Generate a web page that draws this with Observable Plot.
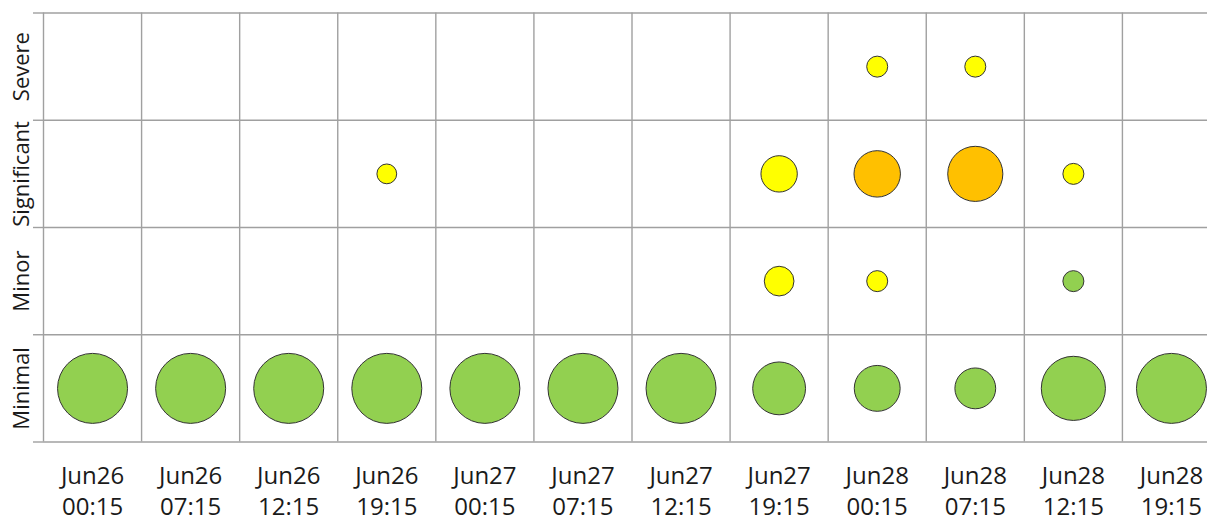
<!DOCTYPE html>
<html><head><meta charset="utf-8">
<script src="https://cdn.jsdelivr.net/npm/d3@7"></script>
<script src="https://cdn.jsdelivr.net/npm/@observablehq/plot@0.6"></script>
<style>html,body{margin:0;padding:0;overflow:hidden;background:#fff}</style>
</head><body><div id="chart"></div>
<script>
const times = ["Jun26\n00:15","Jun26\n07:15","Jun26\n12:15","Jun26\n19:15","Jun27\n00:15","Jun27\n07:15","Jun27\n12:15","Jun27\n19:15","Jun28\n00:15","Jun28\n07:15","Jun28\n12:15","Jun28\n19:15"];
const levels = ["Minimal","Minor","Significant","Severe"];
const minimal     = [100,100,100,100,100,100,100,57,43,34,84,100];
const minor       = [0,0,0,0,0,0,0,18,9,0,9,0];
const significant = [0,0,0,8,0,0,0,27,44,62,9,0];
const severe      = [0,0,0,0,0,0,0,0,9,9,0,0];
const minimalStatus     = ["G","G","G","G","G","G","G","G","G","G","G","G"];
const minorStatus       = ["","","","","","","","Y","Y","","G",""];
const significantStatus = ["","","","Y","","","","Y","O","O","Y",""];
const severeStatus      = ["","","","","","","","","Y","Y","",""];
const statusNames = ["G","Y","O"];
const statusColors = ["#92D050","#FFFF00","#FFC000"];

const series = [[minimal, minimalStatus],[minor, minorStatus],[significant, significantStatus],[severe, severeStatus]];
const data = [];
series.forEach(([vals, stat], li) => vals.forEach((v, ti) => { if (v > 0) data.push({t: ti, l: li, v, s: stat[ti]}); }));

const chart = Plot.plot({
  width: 1221, height: 522,
  marginLeft: 43, marginRight: 1, marginTop: 12.5, marginBottom: 80.5,
  style: {fontFamily: "'Open Sans', sans-serif", color: "#1a1a1a", background: "#fff", maxWidth: "none"},
  x: {type: "linear", domain: [0, times.length], axis: null},
  y: {type: "linear", domain: [0, levels.length], axis: null},
  r: {type: "sqrt", domain: [0, 100], range: [0, 35]},
  color: {domain: statusNames, range: statusColors},
  marks: [
    Plot.gridX(d3.range(times.length + 1), {stroke: "#a0a0a0", strokeOpacity: 1, strokeWidth: 1.4}),
    Plot.gridY(d3.range(levels.length + 1), {stroke: "#a0a0a0", strokeOpacity: 1, strokeWidth: 1.4}),
    Plot.axisY(d3.range(levels.length + 1), {tickSize: 10, tickFormat: () => "", stroke: "#a0a0a0", strokeWidth: 1.4}),
    Plot.dot(data, {x: d => d.t + 0.5, y: d => d.l + 0.5, r: "v", fill: "s", stroke: "#333", strokeWidth: 1}),
    Plot.text(times, {x: (d, i) => i + 0.5, text: d => d, frameAnchor: "bottom", lineAnchor: "top", dy: 20, fontSize: 24, lineHeight: 1.3, fill: "#1a1a1a"}),
    Plot.text(levels, {y: (d, i) => i + 0.5, text: d => d, frameAnchor: "left", textAnchor: "middle", rotate: -90, lineAnchor: "bottom", dx: -15, fontSize: 22, fill: "#1a1a1a"})
  ]
});
document.getElementById("chart").appendChild(chart);
</script>
</body></html>
